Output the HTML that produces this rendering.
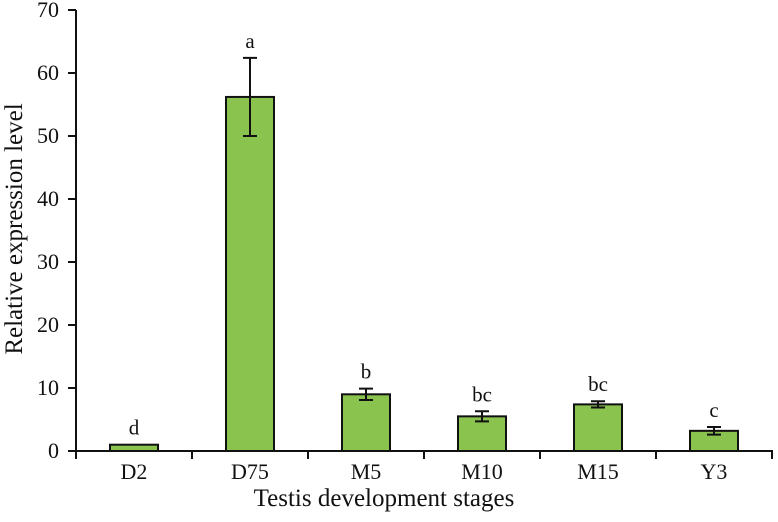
<!DOCTYPE html>
<html><head><meta charset="utf-8"><style>
body{margin:0;background:#fff}
svg text{font-family:"Liberation Serif",serif;fill:#111}
</style></head><body>
<svg width="778" height="517" xmlns="http://www.w3.org/2000/svg">
<g id="g"></g>
</svg>
<script>
const categories=["D2","D75","M5","M10","M15","Y3"];
const values=[1.0,56.2,9.0,5.5,7.4,3.2];
const errors=[0,6.2,0.9,0.8,0.5,0.6];
const letters=["d","a","b","bc","bc","c"];
const yTicks=[0,10,20,30,40,50,60,70];
const X0=76,X1=772,Y0=451,Y70=10;
const bw=(X1-X0)/categories.length;
function y(v){return Y0-(v/70)*(Y0-Y70);}
function xc(i){return X0+bw*(i+0.5);}
const g=document.getElementById('g');
const NS='http://www.w3.org/2000/svg';
function mk(t,a,p){const e=document.createElementNS(NS,t);for(const k in a)e.setAttribute(k,a[k]);(p||g).appendChild(e);return e;}
let e;
e=mk('line',{x1:X0,y1:Y70,x2:X0,y2:Y0,stroke:'#111','stroke-width':2});


e=mk('line',{x1:X0-1,y1:Y0,x2:X1+1,y2:Y0,stroke:'#111','stroke-width':2});


yTicks.forEach(t=>{
  e=mk('line',{x1:X0-8,y1:y(t),x2:X0,y2:y(t),stroke:'#111','stroke-width':2});
  
  
  e=mk('text',{x:X0-17,y:y(t)+7,'text-anchor':'end','font-size':22});
  e.textContent=t;
  
  
});
for(let i=0;i<=categories.length;i++){
  e=mk('line',{x1:X0+bw*i,y1:Y0,x2:X0+bw*i,y2:Y0+8,stroke:'#111','stroke-width':2});
  
  
}
categories.forEach((c,i)=>{
  const cx=xc(i),w=48;
  e=mk('rect',{x:cx-w/2,y:y(values[i]),width:w,height:Y0-y(values[i]),fill:'#8bc34f',stroke:'#111','stroke-width':2});
  
  
  let top=y(values[i]);
  if(errors[i]>0){
    const a=y(values[i]+errors[i]),b=y(values[i]-errors[i]);
    top=a;
    e=mk('path',{d:`M${cx},${a}V${b}M${cx-7},${a}H${cx+7}M${cx-7},${b}H${cx+7}`,stroke:'#111','stroke-width':2,fill:'none'});
    
    
  }
  e=mk('text',{x:cx,y:top-10,'text-anchor':'middle','font-size':21});
  e.textContent=letters[i];
  
  
  e=mk('text',{x:cx,y:479,'text-anchor':'middle','font-size':22});
  e.textContent=c;
  
  
});
e=mk('text',{x:384,y:506,'text-anchor':'middle','font-size':25});
e.textContent='Testis development stages';


e=mk('text',{x:0,y:0,'text-anchor':'middle','font-size':25,transform:'translate(22,229) rotate(-90)'});
e.textContent='Relative expression level';


</script>
</body></html>
